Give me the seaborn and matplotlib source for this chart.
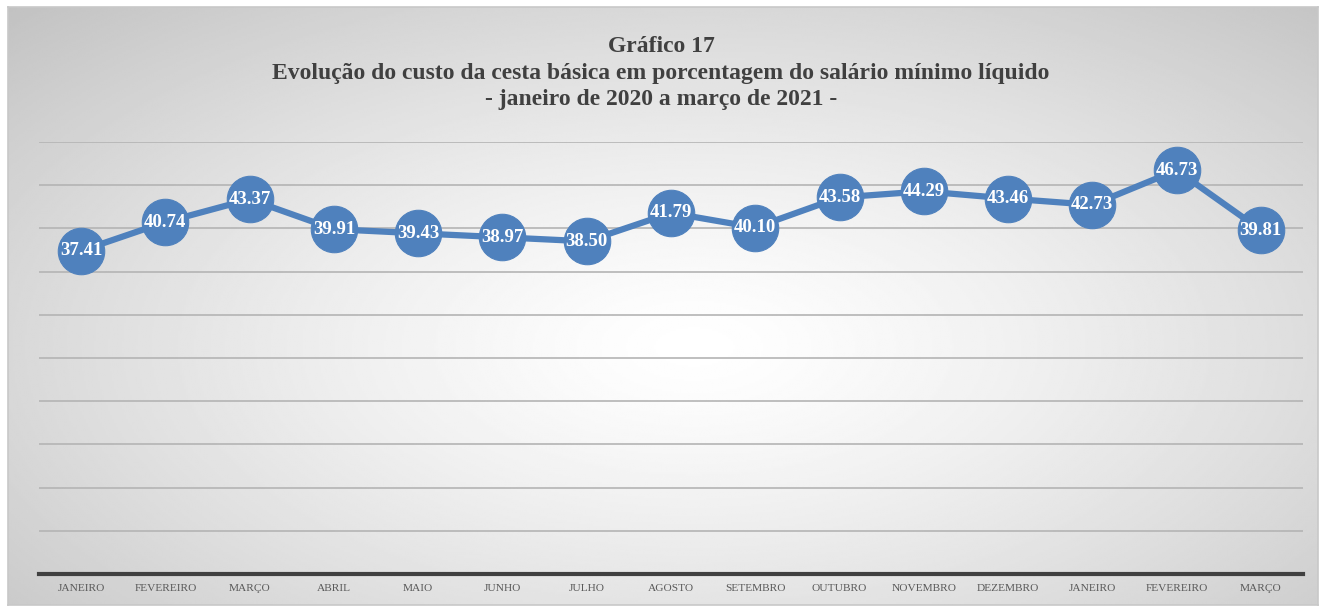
import numpy as np
import pandas as pd
import matplotlib
matplotlib.use("Agg")
import matplotlib.pyplot as plt
import seaborn as sns

months = ["JANEIRO", "FEVEREIRO", "MARÇO", "ABRIL", "MAIO", "JUNHO", "JULHO",
          "AGOSTO", "SETEMBRO", "OUTUBRO", "NOVEMBRO", "DEZEMBRO",
          "JANEIRO", "FEVEREIRO", "MARÇO"]
values = [37.41, 40.74, 43.37, 39.91, 39.43, 38.97, 38.50,
          41.79, 40.10, 43.58, 44.29, 43.46, 42.73, 46.73, 39.81]
title = ("Gráfico 17\n"
         "Evolução do custo da cesta básica em porcentagem do salário mínimo líquido\n"
         "- janeiro de 2020 a março de 2021 -")

sns.set_style("white")
plt.rcParams["font.family"] = ["Liberation Serif", "DejaVu Serif"]

df = pd.DataFrame({"pos": np.arange(len(values)), "valor": values})
blue = "#4f81bd"

W, H = 1322, 607
fig = plt.figure(figsize=(W / 100, H / 100), dpi=100)

# background panel with radial gradient
bg = fig.add_axes([8 / W, 1 - 605 / H, 1310 / W, 598 / H])
yy, xx = np.mgrid[0:300, 0:650]
cx, cy = 340, 170
r = np.sqrt(((xx - cx) / 340) ** 2 + ((yy - cy) / 170) ** 2) / np.sqrt(2)
shade = 1.0 - 0.24 * np.clip(r, 0, 1) ** 1.3
bg.imshow(shade, cmap="gray", vmin=0, vmax=1, aspect="auto", interpolation="bilinear")
bg.set_xticks([])
bg.set_yticks([])
for s in bg.spines.values():
    s.set_color("#c8c8c8")
    s.set_linewidth(1.2)

ax = fig.add_axes([39 / W, 1 - 574 / H, 1264 / W, 432 / H])
ax.patch.set_alpha(0)

sns.lineplot(data=df, x="pos", y="valor", ax=ax, color=blue, linewidth=4.5,
             marker="o", markersize=33.5, markeredgecolor=blue, markerfacecolor=blue,
             zorder=3)

for x, v in zip(df["pos"], df["valor"]):
    ax.text(x, v, f"{v:.2f}", ha="center", va="center", color="white",
            fontsize=13.5, fontweight="bold", zorder=4)

ax.set_xlim(-0.5, len(values) - 0.5)
ax.set_ylim(0, 50)
ax.set_yticks(np.arange(0, 51, 5))
ax.yaxis.grid(True, color="#b4b4b4", linewidth=1.2)
ax.xaxis.grid(False)
ax.tick_params(axis="y", left=False, labelleft=False)
ax.set_xticks(df["pos"])
ax.set_xticklabels(months, fontsize=8.2, color="#595959")
ax.tick_params(axis="x", length=0, pad=7)
ax.set_xlabel("")
ax.set_ylabel("")
for side in ["left", "right", "top"]:
    ax.spines[side].set_visible(False)
ax.spines["bottom"].set_color("#404040")
ax.spines["bottom"].set_linewidth(3)

fig.text(0.5, 1 - 73 / H, title, ha="center", va="center", fontsize=17,
         fontweight="bold", color="#404040", linespacing=1.32)

fig.savefig("out.png", dpi=100)
plt.close(fig)
